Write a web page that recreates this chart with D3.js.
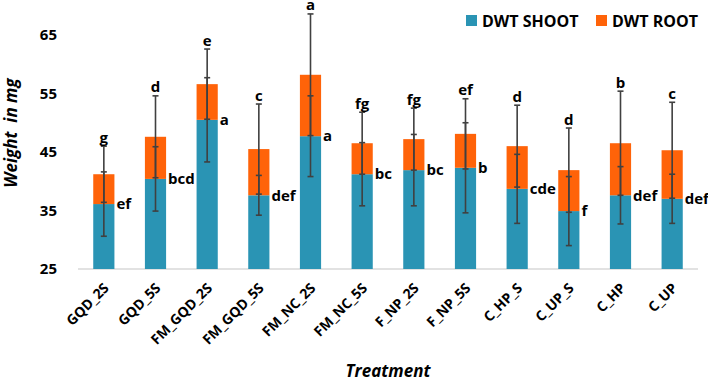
<!DOCTYPE html>
<html>
<head>
<meta charset="utf-8">
<script src="https://cdn.jsdelivr.net/npm/d3@7"></script>
<style>
  body { margin: 0; background: #fff; }
  svg text { font-family: "Open Sans", "Liberation Sans", sans-serif; font-weight: 700; fill: #000; }
</style>
</head>
<body>
<div id="chart"></div>
<script>
// data
const treatments = ['GQD_2S', 'GQD_5S', 'FM_GQD_2S', 'FM_GQD_5S', 'FM_NC_2S', 'FM_NC_5S',
                    'F_NP_2S', 'F_NP_5S', 'C_HP_S', 'C_UP_S', 'C_HP', 'C_UP'];
const shoot = [36.1, 40.4, 50.5, 37.6, 47.7, 41.2, 41.9, 42.3, 38.7, 34.9, 37.6, 37.0];
const total = [41.2, 47.6, 56.6, 45.5, 58.2, 46.5, 47.2, 48.1, 46.0, 41.9, 46.5, 45.3];
const shootErr = [5.5, 5.5, 7.2, 3.4, 6.9, 5.4, 6.1, 7.7, 5.9, 5.9, 4.9, 4.2];
const rootErr = [4.8, 7.0, 6.0, 7.7, 10.4, 5.3, 5.3, 6.0, 7.0, 7.2, 8.9, 8.2];
const shootLetters = ['ef', 'bcd', 'a', 'def', 'a', 'bc', 'bc', 'b', 'cde', 'f', 'def', 'def'];
const rootLetters = ['g', 'd', 'e', 'c', 'a', 'fg', 'fg', 'ef', 'd', 'd', 'b', 'c'];
const yTicks = [25, 35, 45, 55, 65];

const colShoot = '#2a94b4';
const colRoot = '#ff6309';

const width = 708, height = 382;
const svg = d3.select('#chart').append('svg')
    .attr('width', width)
    .attr('height', height);

const x = d3.scaleBand().domain(treatments).range([78, 698]).paddingInner(0.59).paddingOuter(0.295);
const y = d3.scaleLinear().domain([25, 65]).range([269, 35]);

// baseline
svg.append('line')
    .attr('x1', 78).attr('x2', 698)
    .attr('y1', y(25)).attr('y2', y(25))
    .attr('stroke', '#d9d9d9').attr('stroke-width', 1.5);

// y tick labels
svg.append('g').selectAll('text')
    .data(yTicks)
    .enter().append('text')
    .attr('x', 57)
    .attr('y', d => y(d))
    .attr('dy', '0.35em')
    .attr('text-anchor', 'end')
    .style('font-size', '15px')
    .text(d => d);

const rows = treatments.map((t, i) => ({
    t, shoot: shoot[i], total: total[i], se: shootErr[i], re: rootErr[i],
    sl: shootLetters[i], rl: rootLetters[i]
}));

// stacked bars
svg.append('g').selectAll('rect')
    .data(rows)
    .enter().append('rect')
    .attr('x', d => x(d.t))
    .attr('width', x.bandwidth())
    .attr('y', d => y(d.shoot))
    .attr('height', d => y(25) - y(d.shoot))
    .attr('fill', colShoot);

svg.append('g').selectAll('rect')
    .data(rows)
    .enter().append('rect')
    .attr('x', d => x(d.t))
    .attr('width', x.bandwidth())
    .attr('y', d => y(d.total))
    .attr('height', d => y(d.shoot) - y(d.total))
    .attr('fill', colRoot);

// error bars
function errorBar(g, cx, v, e) {
    g.append('line')
        .attr('x1', cx).attr('x2', cx)
        .attr('y1', y(v - e)).attr('y2', y(v + e));
    [v - e, v + e].forEach(k => {
        g.append('line')
            .attr('x1', cx - 3).attr('x2', cx + 3)
            .attr('y1', y(k)).attr('y2', y(k));
    });
}
const eg = svg.append('g').attr('stroke', '#404040').attr('stroke-width', 1.6);
rows.forEach(d => {
    const cx = x(d.t) + x.bandwidth() / 2;
    errorBar(eg, cx, d.shoot, d.se);
    errorBar(eg, cx, d.total, d.re);
});

// letters
svg.append('g').selectAll('text')
    .data(rows)
    .enter().append('text')
    .attr('x', d => x(d.t) + x.bandwidth() / 2)
    .attr('y', d => y(d.total + d.re) - 3.5)
    .attr('text-anchor', 'middle')
    .style('font-size', '15px')
    .text(d => d.rl);

svg.append('g').selectAll('text')
    .data(rows)
    .enter().append('text')
    .attr('x', d => x(d.t) + x.bandwidth() + 2)
    .attr('y', d => y(d.shoot))
    .attr('dy', '0.35em')
    .style('font-size', '15px')
    .text(d => d.sl);

// x tick labels
svg.append('g').selectAll('text')
    .data(treatments)
    .enter().append('text')
    .attr('transform', d => `translate(${x(d) + x.bandwidth() / 2 + 6},${289}) rotate(-45)`)
    .attr('text-anchor', 'end')
    .style('font-size', '14px')
    .text(d => d);

// axis titles
svg.append('text')
    .attr('transform', 'translate(17,133) rotate(-90)')
    .attr('text-anchor', 'middle')
    .style('font-size', '17px')
    .style('font-style', 'italic')
    .attr('xml:space', 'preserve')
    .text('Weight  in mg');

svg.append('text')
    .attr('x', 388)
    .attr('y', 377)
    .attr('text-anchor', 'middle')
    .style('font-size', '17px')
    .style('font-style', 'italic')
    .text('Treatment');

// legend
const legend = [['DWT SHOOT', colShoot, 466], ['DWT ROOT', colRoot, 596]];
const lg = svg.append('g');
legend.forEach(([name, col, lx]) => {
    lg.append('rect').attr('x', lx).attr('y', 15).attr('width', 11).attr('height', 11).attr('fill', col);
    lg.append('text').attr('x', lx + 16).attr('y', 21).attr('dy', '0.35em')
        .style('font-size', '16px').text(name);
});
</script>
</body>
</html>
